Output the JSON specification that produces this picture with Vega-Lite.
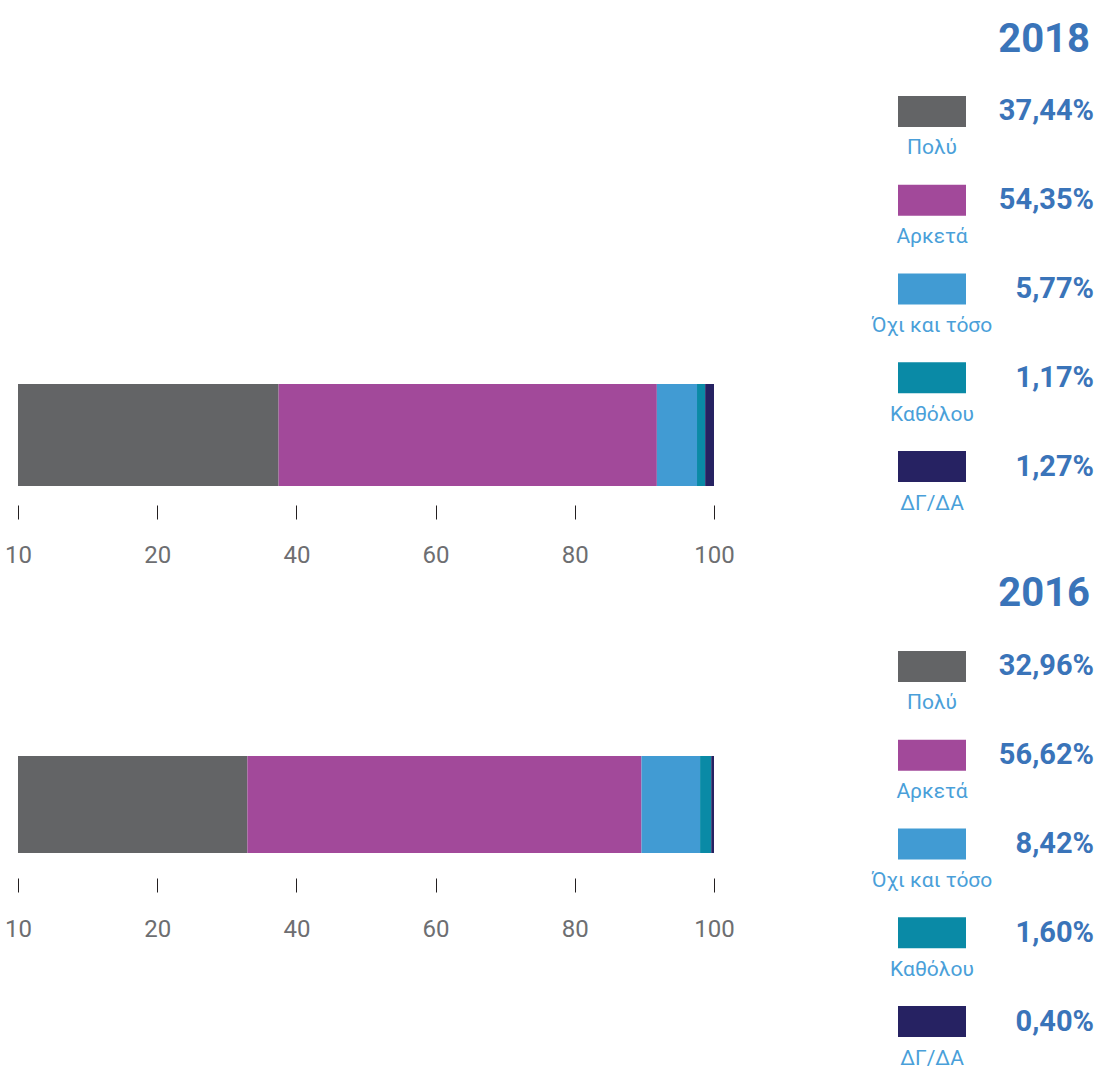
{
  "$schema": "https://vega.github.io/schema/vega-lite/v6.json",
  "background": "white",
  "padding": {"left": 4, "top": 20, "right": 0, "bottom": 0},
  "bounds": "flush",
  "columns": 3,
  "spacing": {"row": 111, "column": 0},
  "config": {"view": {"stroke": null}},
  "datasets": {
    "survey": [
      {"year": 2018, "category": "Πολύ", "rank": 1, "pct": 37.44},
      {"year": 2018, "category": "Αρκετά", "rank": 2, "pct": 54.35},
      {"year": 2018, "category": "Όχι και τόσο", "rank": 3, "pct": 5.77},
      {"year": 2018, "category": "Καθόλου", "rank": 4, "pct": 1.17},
      {"year": 2018, "category": "ΔΓ/ΔΑ", "rank": 5, "pct": 1.27},
      {"year": 2016, "category": "Πολύ", "rank": 1, "pct": 32.96},
      {"year": 2016, "category": "Αρκετά", "rank": 2, "pct": 56.62},
      {"year": 2016, "category": "Όχι και τόσο", "rank": 3, "pct": 8.42},
      {"year": 2016, "category": "Καθόλου", "rank": 4, "pct": 1.60},
      {"year": 2016, "category": "ΔΓ/ΔΑ", "rank": 5, "pct": 0.40}
    ]
  },
  "concat": [
    {
      "width": 880,
      "height": 419,
      "data": {"name": "survey"},
      "transform": [{"filter": "datum.year == 2018"}],
      "mark": {"type": "bar"},
      "encoding": {
        "x": {"field": "pct", "type": "quantitative", "stack": "zero",
          "scale": {"domain": [0, 100], "nice": false, "range": [0, 696]},
          "axis": {"values": [0, 20, 40, 60, 80, 100], "labelExpr": "datum.value === 0 ? '10' : datum.label",
            "domain": false, "grid": false, "ticks": true, "tickSize": 14, "tickColor": "#231f20", "tickWidth": 1,
            "offset": 19, "labelPadding": 24, "labelFont": "Roboto", "labelFontSize": 24,
            "labelColor": "#6d6e71", "labelFlush": false, "labelOverlap": false, "title": null}},
        "y": {"field": "year", "type": "nominal", "axis": null,
          "scale": {"paddingInner": 0.3565, "paddingOuter": 1, "align": 1}},
        "color": {"field": "category", "type": "nominal",
          "scale": {"domain": ["Πολύ", "Αρκετά", "Όχι και τόσο", "Καθόλου", "ΔΓ/ΔΑ"],
            "range": ["#636466", "#a2499a", "#419bd3", "#0a8aa6", "#262262"]}, "legend": null},
        "order": {"field": "rank", "type": "quantitative"}
      }
    },
    {
      "width": 68,
      "height": 444,
      "data": {"name": "survey"},
      "transform": [{"filter": "datum.year == 2018"}],
      "encoding": {
        "y": {"field": "category", "type": "nominal", "sort": ["Πολύ", "Αρκετά", "Όχι και τόσο", "Καθόλου", "ΔΓ/ΔΑ"],
          "axis": null, "scale": {"paddingInner": 0, "paddingOuter": 0}}
      },
      "layer": [
        {
          "mark": {"type": "bar", "size": 31},
          "encoding": {
            "x": {"datum": 0, "type": "quantitative", "scale": {"domain": [0, 1], "nice": false}, "axis": null},
            "x2": {"datum": 1},
            "color": {"field": "category", "type": "nominal",
              "scale": {"domain": ["Πολύ", "Αρκετά", "Όχι και τόσο", "Καθόλου", "ΔΓ/ΔΑ"],
                "range": ["#636466", "#a2499a", "#419bd3", "#0a8aa6", "#262262"]}, "legend": null}
          }
        },
        {
          "mark": {"type": "text", "dy": 37, "fontSize": 21, "font": "Roboto", "color": "#4a9fd9", "baseline": "middle", "align": "center"},
          "encoding": {
            "x": {"datum": 0.5, "type": "quantitative"},
            "text": {"field": "category", "type": "nominal"}
          }
        }
      ]
    },
    {
      "width": 128,
      "height": 444,
      "title": {"text": "2018", "anchor": "end", "fontSize": 40, "font": "Roboto", "fontWeight": "bold", "color": "#3a74b9", "baseline": "alphabetic", "offset": -25, "dx": -4},
      "data": {"name": "survey"},
      "transform": [{"filter": "datum.year == 2018"}],
      "mark": {"type": "text", "align": "right", "baseline": "middle", "fontSize": 29, "fontWeight": "bold", "font": "Roboto", "color": "#3a74b9",
        "text": {"expr": "replace(format(datum.pct, '.2f'), '.', ',') + '%'"}},
      "encoding": {
        "y": {"field": "category", "type": "nominal", "sort": ["Πολύ", "Αρκετά", "Όχι και τόσο", "Καθόλου", "ΔΓ/ΔΑ"],
          "axis": null, "scale": {"paddingInner": 0, "paddingOuter": 0}},
        "x": {"datum": 1, "type": "quantitative", "scale": {"domain": [0, 1], "nice": false}, "axis": null}
      }
    },
    {
      "width": 880,
      "height": 231,
      "data": {"name": "survey"},
      "transform": [{"filter": "datum.year == 2016"}],
      "mark": {"type": "bar"},
      "encoding": {
        "x": {"field": "pct", "type": "quantitative", "stack": "zero",
          "scale": {"domain": [0, 100], "nice": false, "range": [0, 696]},
          "axis": {"values": [0, 20, 40, 60, 80, 100], "labelExpr": "datum.value === 0 ? '10' : datum.label",
            "domain": false, "grid": false, "ticks": true, "tickSize": 14, "tickColor": "#231f20", "tickWidth": 1,
            "offset": 25, "labelPadding": 25, "labelFont": "Roboto", "labelFontSize": 24,
            "labelColor": "#6d6e71", "labelFlush": false, "labelOverlap": false, "title": null}},
        "y": {"field": "year", "type": "nominal", "axis": null,
          "scale": {"paddingInner": 0, "paddingOuter": 0.6907, "align": 1}},
        "color": {"field": "category", "type": "nominal",
          "scale": {"domain": ["Πολύ", "Αρκετά", "Όχι και τόσο", "Καθόλου", "ΔΓ/ΔΑ"],
            "range": ["#636466", "#a2499a", "#419bd3", "#0a8aa6", "#262262"]}, "legend": null},
        "order": {"field": "rank", "type": "quantitative"}
      }
    },
    {
      "width": 68,
      "height": 444,
      "data": {"name": "survey"},
      "transform": [{"filter": "datum.year == 2016"}],
      "encoding": {
        "y": {"field": "category", "type": "nominal", "sort": ["Πολύ", "Αρκετά", "Όχι και τόσο", "Καθόλου", "ΔΓ/ΔΑ"],
          "axis": null, "scale": {"paddingInner": 0, "paddingOuter": 0}}
      },
      "layer": [
        {
          "mark": {"type": "bar", "size": 31},
          "encoding": {
            "x": {"datum": 0, "type": "quantitative", "scale": {"domain": [0, 1], "nice": false}, "axis": null},
            "x2": {"datum": 1},
            "color": {"field": "category", "type": "nominal",
              "scale": {"domain": ["Πολύ", "Αρκετά", "Όχι και τόσο", "Καθόλου", "ΔΓ/ΔΑ"],
                "range": ["#636466", "#a2499a", "#419bd3", "#0a8aa6", "#262262"]}, "legend": null}
          }
        },
        {
          "mark": {"type": "text", "dy": 37, "fontSize": 21, "font": "Roboto", "color": "#4a9fd9", "baseline": "middle", "align": "center"},
          "encoding": {
            "x": {"datum": 0.5, "type": "quantitative"},
            "text": {"field": "category", "type": "nominal"}
          }
        }
      ]
    },
    {
      "width": 128,
      "height": 444,
      "title": {"text": "2016", "anchor": "end", "fontSize": 40, "font": "Roboto", "fontWeight": "bold", "color": "#3a74b9", "baseline": "alphabetic", "offset": -24, "dx": -4},
      "data": {"name": "survey"},
      "transform": [{"filter": "datum.year == 2016"}],
      "mark": {"type": "text", "align": "right", "baseline": "middle", "fontSize": 29, "fontWeight": "bold", "font": "Roboto", "color": "#3a74b9",
        "text": {"expr": "replace(format(datum.pct, '.2f'), '.', ',') + '%'"}},
      "encoding": {
        "y": {"field": "category", "type": "nominal", "sort": ["Πολύ", "Αρκετά", "Όχι και τόσο", "Καθόλου", "ΔΓ/ΔΑ"],
          "axis": null, "scale": {"paddingInner": 0, "paddingOuter": 0}},
        "x": {"datum": 1, "type": "quantitative", "scale": {"domain": [0, 1], "nice": false}, "axis": null}
      }
    }
  ]
}
